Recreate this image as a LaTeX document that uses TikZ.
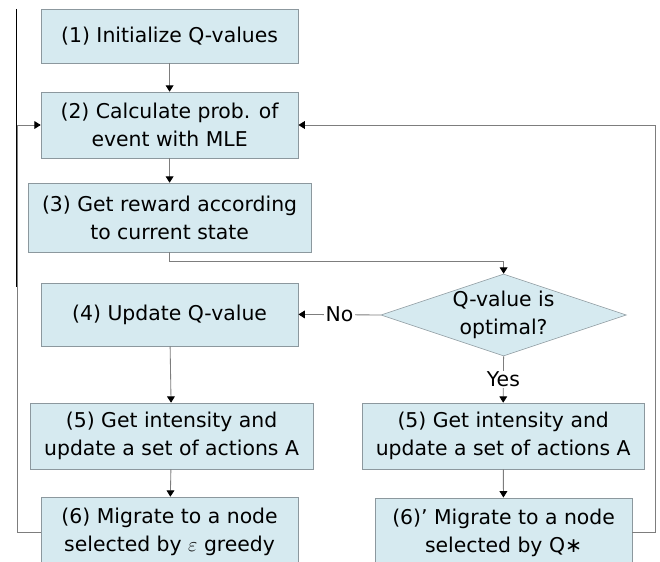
\documentclass[tikz,border=0pt]{standalone}
\usepackage{fontspec}
\setmainfont{DejaVu Sans}
\usepackage{tikz}
\usetikzlibrary{shapes,arrows.meta,positioning,calc}

\definecolor{boxfill}{RGB}{214,234,240}
\definecolor{boxline}{RGB}{140,152,158}
\definecolor{flowgray}{RGB}{125,125,125}

\begin{document}
\begin{tikzpicture}[
    box/.style={rectangle, draw=boxline, fill=boxfill, minimum width=6.43cm, minimum height=1.65cm, inner sep=0pt, align=center, font=\fontsize{14.5}{20}\selectfont},
    widebox/.style={box, minimum width=7.08cm},
    decision/.style={diamond, aspect=3, draw=boxline, fill=boxfill, minimum width=6.13cm, minimum height=2.05cm, inner sep=0pt, align=center, font=\fontsize{14.5}{20}\selectfont},
    arrow/.style={-{Triangle[length=4.5pt,width=5.5pt,color=black]}, draw=flowgray, line width=0.6pt},
    label/.style={fill=white, inner sep=1pt, font=\fontsize{14.5}{20}\selectfont}
]
    \useasboundingbox (0,0) rectangle (16.5,-14.05);
    \fill[white] (0,0) rectangle (16.5,-14.05);
    \clip (0,0) rectangle (16.5,-14.05);

    % Left column
    \node[box, minimum height=1.35cm] (init) at (4.24,-0.90) {(1) Initialize Q-values};
    \node[box] (calc) at (4.24,-3.125) {(2) Calculate prob. of\\event with MLE};
    \node[widebox, minimum height=1.73cm] (reward) at (4.24,-5.44) {(3) Get reward according\\to current state};
    \node[box, minimum height=1.58cm] (update) at (4.24,-7.86) {(4) Update Q-value};
    \node[widebox] (act) at (4.29,-10.9) {(5) Get intensity and\\update a set of actions A};
    \node[box, minimum height=1.75cm] (greedy) at (4.24,-13.3) {(6) Migrate to a node\\selected by $\varepsilon$ greedy};

    % Right column
    \node[decision] (opt) at (12.59,-7.875) {Q-value is\\optimal?};
    \node[widebox, minimum width=7.05cm] (actq) at (12.58,-10.9) {(5) Get intensity and\\update a set of actions A};
    \node[box, minimum height=1.75cm] (best) at (12.59,-13.32) {(6)’ Migrate to a node\\selected by Q∗};

    % Turning points
    \coordinate (fork) at (12.59,-6.525);
    \coordinate (ltop) at (0.425,-3.125);
    \coordinate (rtop) at (16.375,-3.125);

    % Main flow
    \draw[arrow] (init) -- (calc);
    \draw[arrow] (calc) -- (reward);
    \draw[arrow] (reward.south) |- (fork) -- (opt.north);
    \draw[arrow] (opt.west) -- node[label] {No} (update.east);
    \draw[arrow] (opt.south) -- node[label] {Yes} (actq.north);
    \draw[arrow] (update) -- (act);
    \draw[arrow] (act) -- (greedy);
    \draw[arrow] (actq) -- (best);

    % Loops back to (2)
    \draw[arrow] (greedy.west) -| (ltop) -- (calc.west);
    \draw[arrow] (best.east) -| (rtop) -- (calc.east);
    \draw[black, line width=0.8pt] (0.42,-0.22) -- (0.42,-7.18);
\end{tikzpicture}
\end{document}
